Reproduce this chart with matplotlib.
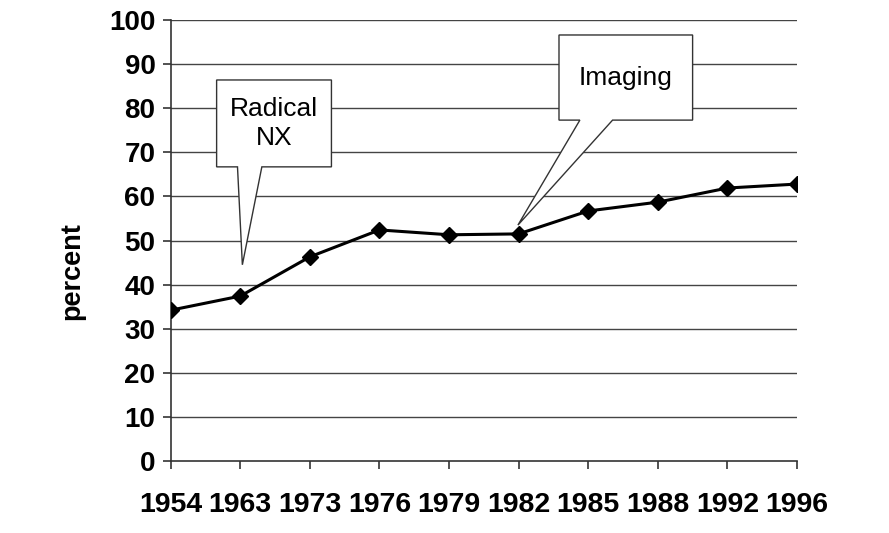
import numpy as np
import matplotlib.pyplot as plt
from matplotlib.patches import Polygon

years = ["1954", "1963", "1973", "1976", "1979", "1982", "1985", "1988", "1992", "1996"]
percent = [34.2, 37.4, 46.3, 52.4, 51.3, 51.5, 56.7, 58.7, 61.9, 62.8]

plt.rcParams["font.family"] = ["Liberation Sans", "DejaVu Sans"]

fig = plt.figure(figsize=(8.89, 5.33), dpi=100)
ax = fig.add_axes([0.192, 0.135, 0.7045, 0.8275])

x = np.arange(len(years))
ax.set_xlim(0, len(years) - 1)
ax.set_ylim(0, 100)

for v in range(10, 101, 10):
    ax.axhline(v, color="#444444", lw=1.0, zorder=1)

ax.plot(x, percent, color="black", lw=2.2, marker="D", markersize=8, zorder=4)

ax.set_xticks(x)
ax.set_xticklabels(years, fontsize=20.5, fontweight="bold")
ax.set_yticks(range(0, 101, 10))
ax.tick_params(axis="y", labelsize=20, length=6, width=1.2, color="#333333", pad=5)
for t in ax.get_yticklabels():
    t.set_fontweight("bold")
ax.tick_params(axis="x", length=6, width=1.2, color="#333333", pad=16)
ax.set_ylabel("percent", fontsize=19.5, fontweight="bold")
ax.yaxis.set_label_coords(-0.136, 0.43)

for s in ["top", "right"]:
    ax.spines[s].set_visible(False)
for s in ["left", "bottom"]:
    ax.spines[s].set_color("#333333")
    ax.spines[s].set_linewidth(1.2)


def callout(box, tail, tip, text, ty):
    x0, x1, y0, y1 = box
    pts = [(x0, y1), (x1, y1), (x1, y0), (tail[1], y0), tip, (tail[0], y0), (x0, y0)]
    ax.add_patch(Polygon(pts, closed=True, facecolor="white", edgecolor="#333333",
                         lw=1.0, zorder=5))
    ax.text((x0 + x1) / 2, ty, text, ha="center", va="center", fontsize=19,
            linespacing=1.25, zorder=6)


callout((0.66, 2.31, 66.7, 86.4), (0.96, 1.31), (1.03, 44.5), "Radical\nNX", 76.5)
callout((5.58, 7.5, 77.3, 96.6), (5.88, 6.35), (4.99, 53.5), "Imaging", 86.8)

fig.savefig("out.png", dpi=100)
